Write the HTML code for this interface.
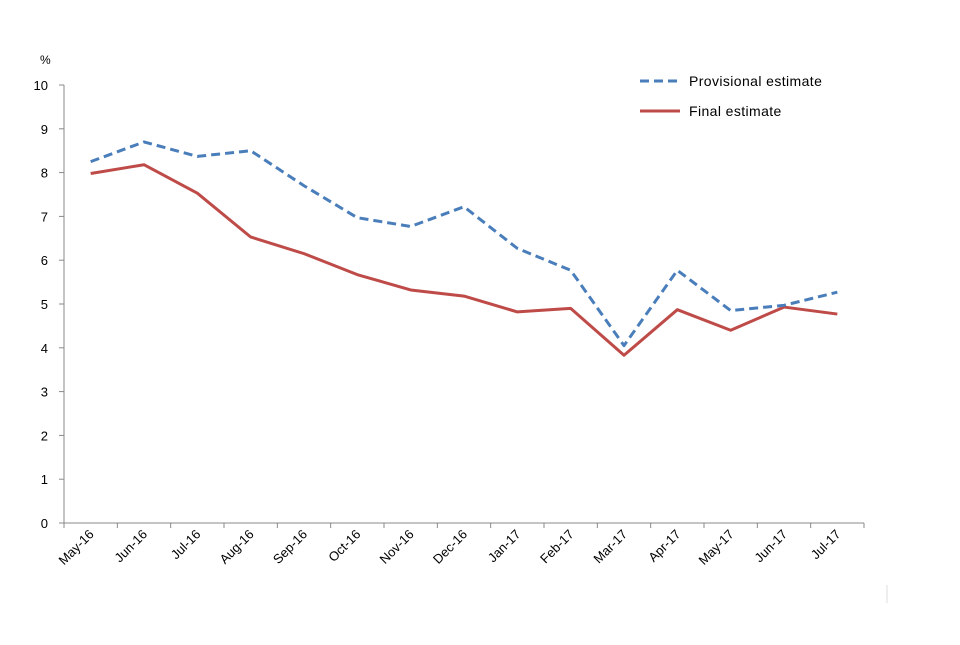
<!DOCTYPE html>
<html><head><meta charset="utf-8"><style>
body{margin:0;background:#fff;}
svg text{font-family:"Liberation Sans",sans-serif;font-size:13px;fill:#000;}
</style></head><body>
<svg id="chart" width="960" height="640" xmlns="http://www.w3.org/2000/svg">
<rect width="960" height="640" fill="#fff"/>
<g id="axes"></g><g id="series"></g>
<text x="40" y="64" style="font-size:12px">%</text>
<g>
<line x1="640" y1="81" x2="680" y2="81" stroke="#4a7ebb" stroke-width="3" stroke-dasharray="9,5"/>
<text x="689" y="86" style="font-size:14px;letter-spacing:0.4px">Provisional estimate</text>
<line x1="640" y1="111" x2="680" y2="111" stroke="#be4b48" stroke-width="3"/>
<text x="689" y="116" style="font-size:14px;letter-spacing:0.4px">Final estimate</text>
</g>
<line x1="887" y1="585" x2="887" y2="603" stroke="#ddd"/>
</svg>
<script>
const categories=["May-16","Jun-16","Jul-16","Aug-16","Sep-16","Oct-16","Nov-16","Dec-16","Jan-17","Feb-17","Mar-17","Apr-17","May-17","Jun-17","Jul-17"];
const provisional=[8.25,8.7,8.37,8.5,7.7,6.97,6.77,7.22,6.27,5.77,4.05,5.77,4.85,4.97,5.27];
const finalEst=[7.98,8.18,7.53,6.53,6.15,5.67,5.32,5.18,4.82,4.9,3.83,4.87,4.4,4.93,4.77];
const yTicks=[0,1,2,3,4,5,6,7,8,9,10];
const NS="http://www.w3.org/2000/svg";
const X0=64,X1=864,Y0=523,Y1=85,YMAX=10;
const band=(X1-X0)/categories.length;
function xs(i){return X0+band*(i+0.5);}
function ys(v){return Y0-(v/YMAX)*(Y0-Y1);}
function mk(t,a,p){const e=document.createElementNS(NS,t);for(const k in a)e.setAttribute(k,a[k]);p.appendChild(e);return e;}
const ax=document.getElementById('axes'),se=document.getElementById('series');
const ya=mk('line',{x1:X0,y1:Y1,x2:X0,y2:Y0,stroke:'#888'},ax);


const xa=mk('line',{x1:X0,y1:Y0,x2:X1,y2:Y0,stroke:'#888'},ax);


yTicks.forEach(v=>{
 const y=ys(v);
 mk('line',{x1:X0-5,y1:y,x2:X0,y2:y,stroke:'#888'},ax);
 const t=mk('text',{x:48,y:y+5,'text-anchor':'end'},ax);t.textContent=v;
 
 
});
for(let i=0;i<=categories.length;i++){const x=X0+band*i;mk('line',{x1:x,y1:Y0,x2:x,y2:Y0+5,stroke:'#888'},ax);}
categories.forEach((c,i)=>{
 const x=xs(i)+4,y=Y0+12;
 const t=mk('text',{x:x,y:y,'text-anchor':'end',transform:`rotate(-45 ${x} ${y})`},ax);t.textContent=c;
 
 
});
function line(arr,attrs,name){
 const p=mk('polyline',Object.assign({points:arr.map((v,i)=>xs(i)+','+ys(v)).join(' '),fill:'none','stroke-width':3,'stroke-linejoin':'round'},attrs),se);
 
 
}
line(finalEst,{stroke:'#be4b48'},'final-estimate-line');
line(provisional,{stroke:'#4a7ebb','stroke-dasharray':'9,5'},'provisional-estimate-line');
</script>
</body></html>
